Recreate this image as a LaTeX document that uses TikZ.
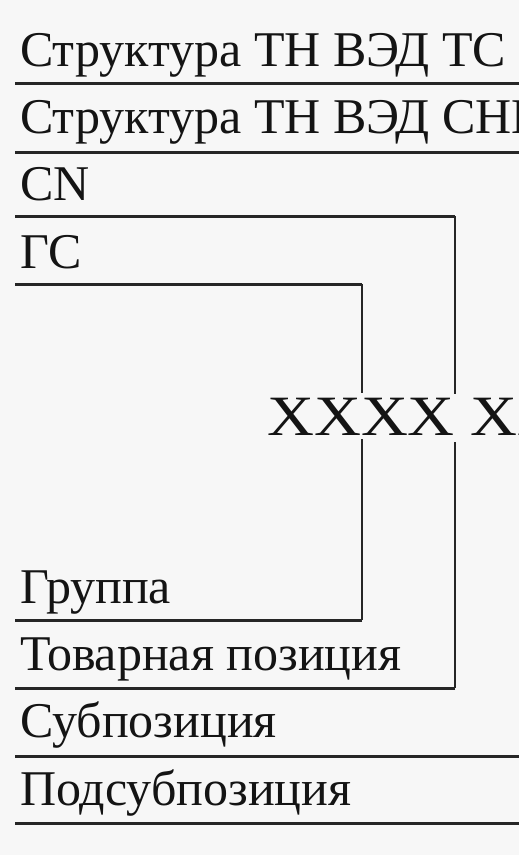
\documentclass[tikz,border=0pt]{standalone}
\usepackage{fontspec}
\setmainfont{Liberation Serif}
\begin{document}
\begin{tikzpicture}[x=1pt,y=-1pt,
  lbl/.style={anchor=base west, inner sep=0pt, text=black!92, font=\fontsize{50}{50}\selectfont},
  code/.style={anchor=base west, inner sep=0pt, text=black!92, font=\fontsize{57}{57}\selectfont},
  hrule/.style={line width=3pt, draw=black!85},
  vrule/.style={line width=2pt, draw=black!85}]
\fill[black!3] (0,0) rectangle (519,855);
\useasboundingbox (0,0) rectangle (519,855);
\clip (0,0) rectangle (519,855);
% labels
\node[lbl] (ts) at (20,66) {Структура ТН ВЭД ТС};
\node[lbl] (sng) at (20,133) {Структура ТН ВЭД СНГ};
\node[lbl] (cn) at (20,200) {CN};
\node[lbl] (gs) at (20,268) {ГС};
\node[lbl] (grp) at (20,603) {Группа};
\node[lbl] (pos) at (20,670) {Товарная позиция};
\node[lbl] (sub) at (20,737) {Субпозиция};
\node[lbl] (psub) at (20,805) {Подсубпозиция};
\node[code] (x) at (267,435) {\scalebox{1.14}[1]{XXXX\hspace{14pt}XX}};
% coordinates
\coordinate (l1a) at (15,83);  \coordinate (l1b) at (519,83);
\coordinate (l2a) at (15,152); \coordinate (l2b) at (519,152);
\coordinate (l3a) at (15,216); \coordinate (l3b) at (455,216);
\coordinate (l3c) at (455,394); \coordinate (l3d) at (455,442);
\coordinate (l3e) at (455,688); \coordinate (l3f) at (15,688);
\coordinate (l4a) at (15,284); \coordinate (l4b) at (362,284);
\coordinate (l4c) at (362,393); \coordinate (l4d) at (362,439);
\coordinate (l4e) at (362,620); \coordinate (l4f) at (15,620);
\coordinate (l5a) at (15,756); \coordinate (l5b) at (519,756);
\coordinate (l6a) at (15,823); \coordinate (l6b) at (519,823);
% rules
\draw[hrule] (l1a) -- (l1b);
\draw[hrule] (l2a) -- (l2b);
\draw[hrule] (l3a) -- (l3b);
\draw[vrule] (l3b) -- (l3c);
\draw[vrule] (l3d) -- (l3e);
\draw[hrule] (l3e) -- (l3f);
\draw[hrule] (l4a) -- (l4b);
\draw[vrule] (l4b) -- (l4c);
\draw[vrule] (l4d) -- (l4e);
\draw[hrule] (l4e) -- (l4f);
\draw[hrule] (l5a) -- (l5b);
\draw[hrule] (l6a) -- (l6b);
\end{tikzpicture}
\end{document}
